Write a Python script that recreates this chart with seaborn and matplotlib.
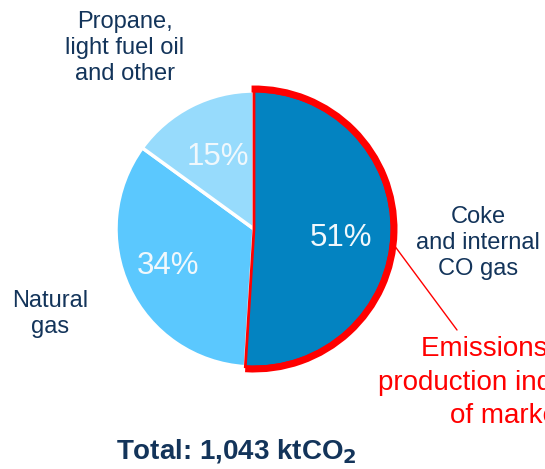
import numpy as np
import matplotlib
matplotlib.use("Agg")
import matplotlib.pyplot as plt
from matplotlib.patches import Arc
import seaborn as sns

# emission shares by fuel (percent)
fuels = ["Coke\nand internal\nCO gas", "Natural\ngas", "Propane,\nlight fuel oil\nand other"]
shares = [51, 34, 15]
slice_colors = ["#0383C1", "#5BC8FE", "#97DBFC"]
total_label = "Total: 1,043 ktCO$_\\mathbf{2}$"
note_lines = ["Emissions from", "production independent", "of market conditions"]

sns.set_theme(style="white")
plt.rcParams["font.family"] = ["Liberation Sans", "DejaVu Sans"]

W, H = 545, 469
fig = plt.figure(figsize=(W / 100, H / 100), dpi=100)
ax = fig.add_axes([0, 0, 1, 1])

cx, cy, r = 254, 240, 138
wedges, _ = ax.pie(shares, colors=slice_colors, startangle=90, counterclock=False,
                   center=(cx, cy), radius=r,
                   wedgeprops=dict(edgecolor="white", linewidth=2.5))

# red outline around the biggest slice
wedges[0].set_edgecolor("#FF0000")
wedges[0].set_linewidth(2)
wedges[0].set_zorder(3)
end_ang = 90 - 360 * shares[0] / sum(shares)
ax.add_patch(Arc((cx, cy), 2 * r + 4, 2 * r + 4, theta1=end_ang, theta2=91,
                 color="#FF0000", linewidth=5, zorder=4))

# leader to the note
a = np.deg2rad(-7)
ax.plot([cx + (r + 4) * np.cos(a), 457], [cy + (r + 4) * np.sin(a), 139],
        color="#FF0000", linewidth=1, zorder=2)

ax.set_xlim(0, W)
ax.set_ylim(0, H)
ax.set_aspect("auto")
ax.axis("off")

navy = "#13345A"
label_pos = [(478, 226), (50, 155), (125, 421)]
for name, (x, y) in zip(fuels, label_pos):
    ax.text(x, y, name, ha="center", va="center", fontsize=17, color=navy,
            linespacing=1.22)

pct_pos = [(341, 231), (168, 203), (218, 312)]
for s, (x, y) in zip(shares, pct_pos):
    ax.text(x, y, f"{s}%", ha="center", va="center", fontsize=22.5, color="#F0F8FC")

for line, (x, y) in zip(note_lines, [(421, 120), (378, 86), (450, 53)]):
    ax.text(x, y, line, ha="left", va="center", fontsize=20, color="#FF0000")

ax.text(236, 17, total_label, ha="center", va="center", fontsize=20,
        fontweight="bold", color=navy)

fig.savefig("out.png", dpi=100)
